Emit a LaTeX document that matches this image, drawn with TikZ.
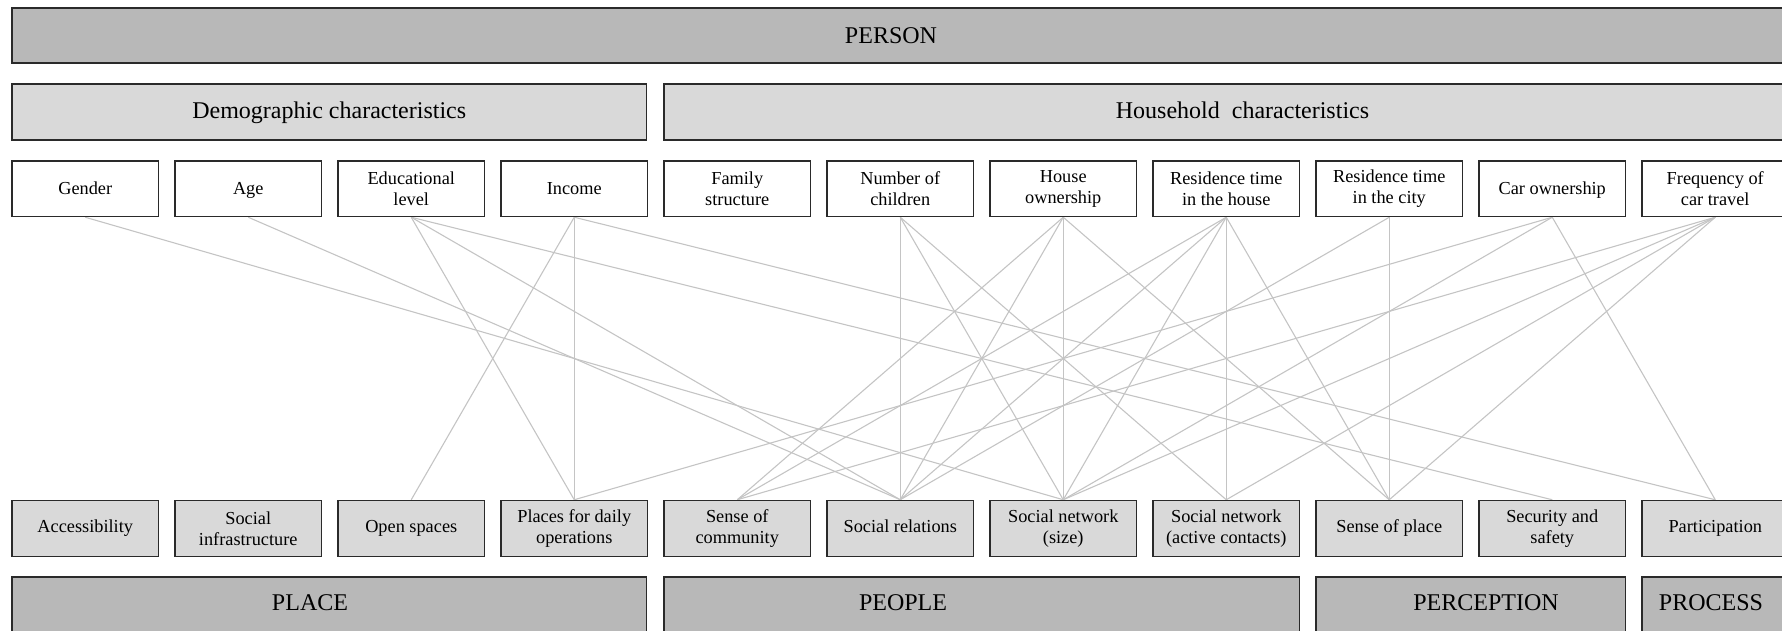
\documentclass[tikz,border=0pt]{standalone}
\usepackage{fontspec}
\setmainfont{Liberation Serif}
\usetikzlibrary{backgrounds}
\definecolor{darkband}{HTML}{B8B8B8}
\definecolor{lightband}{HTML}{D9D9D9}
\definecolor{edgeline}{HTML}{2A2A2A}
\definecolor{linkgray}{HTML}{C4C4C4}
\tikzset{
  boxbase/.style={draw=edgeline, line width=1.5pt, inner sep=0pt, align=center, text=black},
  varbox/.style={boxbase, fill=white, minimum width=146.5pt, minimum height=55.5pt,
    font=\fontsize{18.3}{21}\selectfont},
  facbox/.style={boxbase, fill=lightband, minimum width=146.5pt, minimum height=56pt,
    font=\fontsize{18.3}{21}\selectfont},
  oneline/.style={text height=12.5pt, text depth=1.5pt},
  onelinefac/.style={text height=12.5pt, text depth=4.5pt},
  groupbox/.style={boxbase, fill=lightband, minimum height=56pt},
  dimbox/.style={boxbase, fill=darkband, minimum height=55pt},
  bigtext/.style={inner sep=0pt, text=black, font=\fontsize{24}{28}\selectfont,
    text height=16.5pt, text depth=5.2pt},
  link/.style={draw=linkgray, line width=1.1pt},
}
\begin{document}
\begin{tikzpicture}[x=1pt, y=-1pt]
\useasboundingbox (0,0) rectangle (1782,631);
\clip (0,0) rectangle (1782,631);

% top band and group headers
\node[dimbox, minimum width=1788pt] (person) at (906,35.5) {};
\node[bigtext] (personT) at (891,37.5) {PERSON};
\node[groupbox, minimum width=634.5pt] (demo) at (329.25,112) {};
\node[bigtext] (demoT) at (329.25,113) {Demographic characteristics};
\node[groupbox, minimum width=1158pt] (house) at (1243,112) {};
\node[bigtext] (houseT) at (1242.5,113) {Household\ \ characteristics};

% personal and household variables
\node[varbox, oneline] (gender) at (85.25,188.75)   {Gender};
\node[varbox, oneline] (age)    at (248.25,188.75)  {Age};
\node[varbox] (edu)             at (411.25,188.75)  {Educational\\level};
\node[varbox, oneline] (income) at (574.25,188.75)  {Income};
\node[varbox] (family)          at (737.25,188.75)  {Family\\structure};
\node[varbox] (children)        at (900.25,188.75)  {Number of\\children};
\node[varbox] (ownership)       at (1063.25,188.75) {House\\ownership};
\node[varbox] (reshouse)        at (1226.25,188.75) {Residence time\\in the house};
\node[varbox] (rescity)         at (1389.25,188.75) {Residence time\\in the city};
\node[varbox, oneline] (car)    at (1552.25,188.75) {Car ownership};
\node[varbox] (travel)          at (1715.25,188.75) {Frequency of\\car travel};

% outcome factors
\node[facbox, onelinefac] (access)     at (85.25,528.5)   {Accessibility};
\node[facbox] (infra)                  at (248.25,528.5)  {Social\\infrastructure};
\node[facbox, onelinefac] (openspaces) at (411.25,528.5)  {Open spaces};
\node[facbox] (places)                 at (574.25,528.5)  {Places for daily\\operations};
\node[facbox] (community)              at (737.25,528.5)  {Sense of\\community};
\node[facbox, onelinefac] (relations)  at (900.25,528.5)  {Social relations};
\node[facbox] (netsize)                at (1063.25,528.5) {Social network\\(size)};
\node[facbox] (netactive)              at (1226.25,528.5) {Social network\\(active contacts)};
\node[facbox, onelinefac] (senseplace) at (1389.25,528.5) {Sense of place};
\node[facbox] (security)               at (1552.25,528.5) {Security and\\safety};
\node[facbox, onelinefac] (participation) at (1715.25,528.5) {Participation};

% dimension bands
\node[dimbox, minimum width=634.5pt, minimum height=56pt] (place) at (329.25,605) {};
\node[bigtext] (placeT) at (310,605) {PLACE};
\node[dimbox, minimum width=635.5pt, minimum height=56pt] (people) at (981.75,605) {};
\node[bigtext] (peopleT) at (903,605) {PEOPLE};
\node[dimbox, minimum width=309.5pt, minimum height=56pt] (perception) at (1470.75,605) {};
\node[bigtext] (perceptionT) at (1486,605) {PERCEPTION};
\node[dimbox, minimum width=158pt, minimum height=56pt] (process) at (1721,605) {};
\node[bigtext] (processT) at (1711,605) {PROCESS};

% relations between variables and factors
\begin{scope}[on background layer]
\foreach \a/\b in {gender/netsize, age/relations,
    edu/places, edu/relations, edu/security,
    income/openspaces, income/places, income/participation,
    children/relations, children/netsize, children/netactive,
    ownership/community, ownership/relations, ownership/netsize, ownership/senseplace,
    reshouse/community, reshouse/relations, reshouse/netsize, reshouse/netactive, reshouse/senseplace,
    rescity/relations, rescity/senseplace,
    car/places, car/netsize, car/participation,
    travel/community, travel/netsize, travel/netactive, travel/senseplace}
  \draw[link] (\a.south) -- (\b.north);
\end{scope}
\end{tikzpicture}
\end{document}
